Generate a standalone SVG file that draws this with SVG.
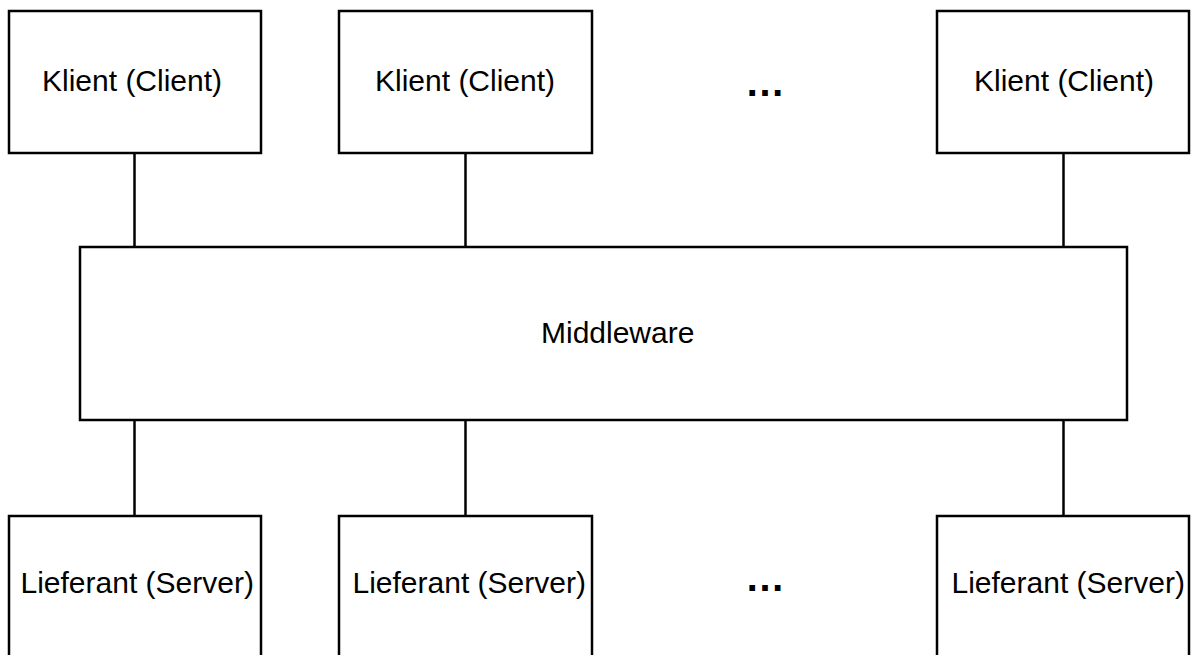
<svg xmlns="http://www.w3.org/2000/svg" width="1193" height="655" viewBox="0 0 1193 655">
<style>
.box{fill:#fff;stroke:#000;stroke-width:2.5}
.lbl{font-family:"Liberation Sans",Arial,sans-serif;font-size:30px;fill:#000}
.dots{font-family:"Liberation Sans",Arial,sans-serif;font-size:40px;font-weight:bold;fill:#000}
.conn{stroke:#000;stroke-width:2.5;fill:none}
</style>
<rect width="1193" height="655" fill="#fff"/>
<g id="connectors">
<line class="conn" x1="134.5" y1="153" x2="134.5" y2="247"/>
<line class="conn" x1="465.5" y1="153" x2="465.5" y2="247"/>
<line class="conn" x1="1063.5" y1="153" x2="1063.5" y2="247"/>
<line class="conn" x1="134.5" y1="420" x2="134.5" y2="516"/>
<line class="conn" x1="465.5" y1="420" x2="465.5" y2="516"/>
<line class="conn" x1="1063.5" y1="420" x2="1063.5" y2="516"/>
</g>
<g id="client1"><rect class="box" x="9" y="11" width="252" height="142"/><text class="lbl" x="42" y="91">Klient (Client)</text></g>
<g id="client2"><rect class="box" x="339" y="11" width="253" height="142"/><text class="lbl" x="375" y="91">Klient (Client)</text></g>
<g id="client-ellipsis"><text class="dots" x="745" y="95.5">…</text></g>
<g id="client3"><rect class="box" x="937" y="11" width="252" height="142"/><text class="lbl" x="974" y="91">Klient (Client)</text></g>
<g id="middleware"><rect class="box" x="80" y="247" width="1047" height="173"/><text class="lbl" x="541" y="343">Middleware</text></g>
<g id="server1"><rect class="box" x="9" y="516" width="252" height="160"/><text class="lbl" x="20.5" y="592.5">Lieferant (Server)</text></g>
<g id="server2"><rect class="box" x="339" y="516" width="253" height="160"/><text class="lbl" x="352.5" y="592.5">Lieferant (Server)</text></g>
<g id="server-ellipsis"><text class="dots" x="745" y="590.5">…</text></g>
<g id="server3"><rect class="box" x="937" y="516" width="252" height="160"/><text class="lbl" x="951.5" y="592.5">Lieferant (Server)</text></g>
</svg>
